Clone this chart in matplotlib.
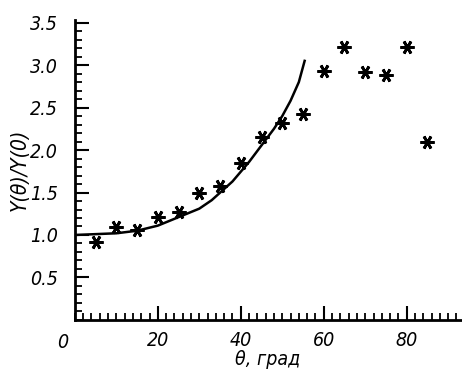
import numpy as np
import matplotlib.pyplot as plt
from matplotlib.ticker import MultipleLocator
import matplotlib.transforms as mtransforms

# measured points
theta_pts = [5, 10, 15, 20, 25, 30, 35, 40, 45, 50, 55, 60, 65, 70, 75, 80, 85]
ratio_pts = [0.92, 1.09, 1.06, 1.21, 1.27, 1.50, 1.58, 1.85, 2.15, 2.32, 2.42,
             2.93, 3.21, 2.92, 2.88, 3.21, 2.10]

# theoretical curve
theta_curve = [0, 5, 10, 15, 20, 25, 30, 33, 38, 42, 46, 48, 50, 52, 54, 55.4]
ratio_curve = [1.00, 1.01, 1.02, 1.05, 1.11, 1.21, 1.31, 1.41, 1.63, 1.86,
               2.12, 2.25, 2.40, 2.58, 2.80, 3.05]

xticks = [20, 40, 60, 80]
yticks = [0.5, 1.0, 1.5, 2.0, 2.5, 3.0, 3.5]

plt.rcParams['font.family'] = ['DejaVu Sans']
plt.rcParams['font.stretch'] = 'condensed'
plt.rcParams['font.style'] = 'oblique'

fig = plt.figure(figsize=(4.62, 3.72), dpi=100, facecolor='white')
ax = fig.add_axes([0.162, 0.140, 0.835, 0.806])

ax.plot(theta_curve, ratio_curve, color='black', linewidth=1.8)
ax.plot(theta_pts, ratio_pts, linestyle='none', marker=(6, 2, 90),
        markersize=10, markeredgewidth=2, color='black')

ax.set_xlim(0, 93)
ax.set_ylim(0, 3.53)

for s in ['top', 'right']:
    ax.spines[s].set_visible(False)
for s in ['left', 'bottom']:
    ax.spines[s].set_linewidth(2)

ax.set_xticks(xticks)
ax.set_xticklabels([str(v) for v in xticks])
ax.xaxis.set_minor_locator(MultipleLocator(2))
ax.set_yticks(yticks)
ax.set_yticklabels([f'{v:.1f}' for v in yticks])
ax.yaxis.set_minor_locator(MultipleLocator(0.1))

ax.tick_params(which='major', direction='in', length=10, width=1.5, labelsize=14)
ax.tick_params(which='minor', direction='in', length=5, width=1.3)
ax.tick_params(axis='y', which='major', pad=12)
ax.tick_params(axis='x', which='major', pad=8)

# lone origin label
trans = mtransforms.blended_transform_factory(ax.transData, ax.transAxes)
ax.text(-3, -0.045, '0', transform=trans, ha='center', va='top', fontsize=14)

ax.set_xlabel('θ, град', fontsize=14, labelpad=0)
ax.set_ylabel('Y(θ)/Y(0)', fontsize=15, labelpad=0)

fig.savefig('out.png', dpi=100)
